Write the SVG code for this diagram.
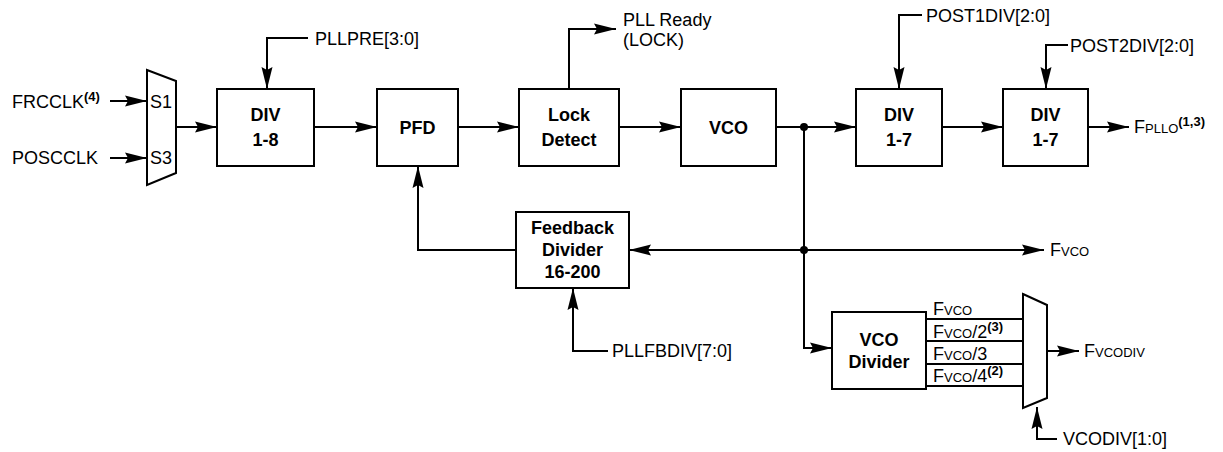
<svg xmlns="http://www.w3.org/2000/svg" width="1223" height="452" viewBox="0 0 1223 452">
<style>
.box{fill:#fff;stroke:#000;stroke-width:2}
.ln{fill:none;stroke:#000;stroke-width:2}
.arr{marker-end:url(#ah)}
.b{font-family:"Liberation Sans",Arial,sans-serif;font-weight:bold;font-size:18px;text-anchor:middle;fill:#000}
.t{font-family:"Liberation Sans",Arial,sans-serif;font-size:18px;fill:#000}
.s{font-size:13px}
.sup{font-size:13px;font-weight:bold}
</style>
<defs>
<marker id="ah" markerUnits="userSpaceOnUse" markerWidth="23" markerHeight="12" refX="22" refY="6" orient="auto">
<path d="M0,0.5 L22,6 L0,11.5 L3,6 z" fill="#000"/>
</marker>
</defs>
<rect width="1223" height="452" fill="#fff"/>
<g id="connectors">
<path class="ln arr" d="M110,101 H147"/>
<path class="ln arr" d="M110,158 H147"/>
<path class="ln arr" d="M176,127 H217"/>
<path class="ln arr" d="M314,127 H377"/>
<path class="ln arr" d="M458,127 H519"/>
<path class="ln arr" d="M619,127 H681"/>
<path class="ln arr" d="M776,127 H856"/>
<path class="ln arr" d="M942,127 H1003"/>
<path class="ln arr" d="M1088,127 H1129"/>
<path class="ln arr" d="M308,38 H267 V89"/>
<path class="ln arr" d="M569,89 V29 H616"/>
<path class="ln arr" d="M922,15 H899 V89"/>
<path class="ln arr" d="M1068,45 H1046 V89"/>
<path class="ln arr" d="M804,127 V348 H832"/>
<path class="ln arr" d="M804,250 H629"/>
<path class="ln arr" d="M804,250 H1044"/>
<path class="ln arr" d="M516,250 H418 V166"/>
<path class="ln arr" d="M608,351 H573 V288"/>
<path class="ln" d="M926,319 H1023 M926,341 H1023 M926,364 H1023 M926,386 H1023"/>
<path class="ln arr" d="M1047,351 H1079"/>
<path class="ln arr" d="M1057,439 H1037 V407"/>
<circle cx="804" cy="127" r="4" fill="#000"/>
<circle cx="804" cy="250" r="4" fill="#000"/>
</g>
<g id="mux1">
<path class="box" d="M147,70 L176,81 L176,173 L147,185 Z"/>
<text class="t" x="150" y="108">S1</text>
<text class="t" x="150" y="164">S3</text>
</g>
<g id="div18"><rect class="box" x="217" y="89" width="97" height="77"/><text class="b" x="265.5" y="121">DIV</text><text class="b" x="265.5" y="146">1-8</text></g>
<g id="pfd"><rect class="box" x="377" y="89" width="81" height="77"/><text class="b" x="417.5" y="134">PFD</text></g>
<g id="lockdetect"><rect class="box" x="519" y="89" width="100" height="77"/><text class="b" x="569" y="121">Lock</text><text class="b" x="569" y="146">Detect</text></g>
<g id="vco"><rect class="box" x="681" y="89" width="95" height="77"/><text class="b" x="728.5" y="134">VCO</text></g>
<g id="div17a"><rect class="box" x="856" y="89" width="86" height="77"/><text class="b" x="899" y="121">DIV</text><text class="b" x="899" y="146">1-7</text></g>
<g id="div17b"><rect class="box" x="1003" y="89" width="85" height="77"/><text class="b" x="1045.5" y="121">DIV</text><text class="b" x="1045.5" y="146">1-7</text></g>
<g id="fbdiv"><rect class="box" x="516" y="212" width="113" height="76"/><text class="b" x="572.5" y="234">Feedback</text><text class="b" x="572.5" y="256">Divider</text><text class="b" x="572.5" y="278">16-200</text></g>
<g id="vcodivider"><rect class="box" x="832" y="312" width="94" height="77"/><text class="b" x="879" y="346">VCO</text><text class="b" x="879" y="368">Divider</text></g>
<g id="mux2"><path class="box" d="M1023,294 L1047,305 L1047,398 L1023,408 Z"/></g>
<g id="labels">
<text class="t" x="12" y="108">FRCCLK<tspan class="sup" dy="-7">(4)</tspan></text>
<text class="t" x="12" y="164">POSCCLK</text>
<text class="t" x="315" y="45">PLLPRE[3:0]</text>
<text class="t" x="623" y="26">PLL Ready</text>
<text class="t" x="623" y="46">(LOCK)</text>
<text class="t" x="926" y="22">POST1DIV[2:0]</text>
<text class="t" x="1070" y="52">POST2DIV[2:0]</text>
<text class="t" x="1134" y="133">F<tspan class="s">PLLO</tspan><tspan class="sup" dy="-7">(1,3)</tspan></text>
<text class="t" x="1050" y="256">F<tspan class="s">VCO</tspan></text>
<text class="t" x="612" y="357">PLLFBDIV[7:0]</text>
<text class="t" x="1084" y="357">F<tspan class="s">VCODIV</tspan></text>
<text class="t" x="1063" y="445">VCODIV[1:0]</text>
<text class="t" x="933" y="315">F<tspan class="s">VCO</tspan></text>
<text class="t" x="933" y="338">F<tspan class="s">VCO</tspan>/2<tspan class="sup" dy="-7">(3)</tspan></text>
<text class="t" x="933" y="360">F<tspan class="s">VCO</tspan>/3</text>
<text class="t" x="933" y="382">F<tspan class="s">VCO</tspan>/4<tspan class="sup" dy="-7">(2)</tspan></text>
</g>
</svg>
